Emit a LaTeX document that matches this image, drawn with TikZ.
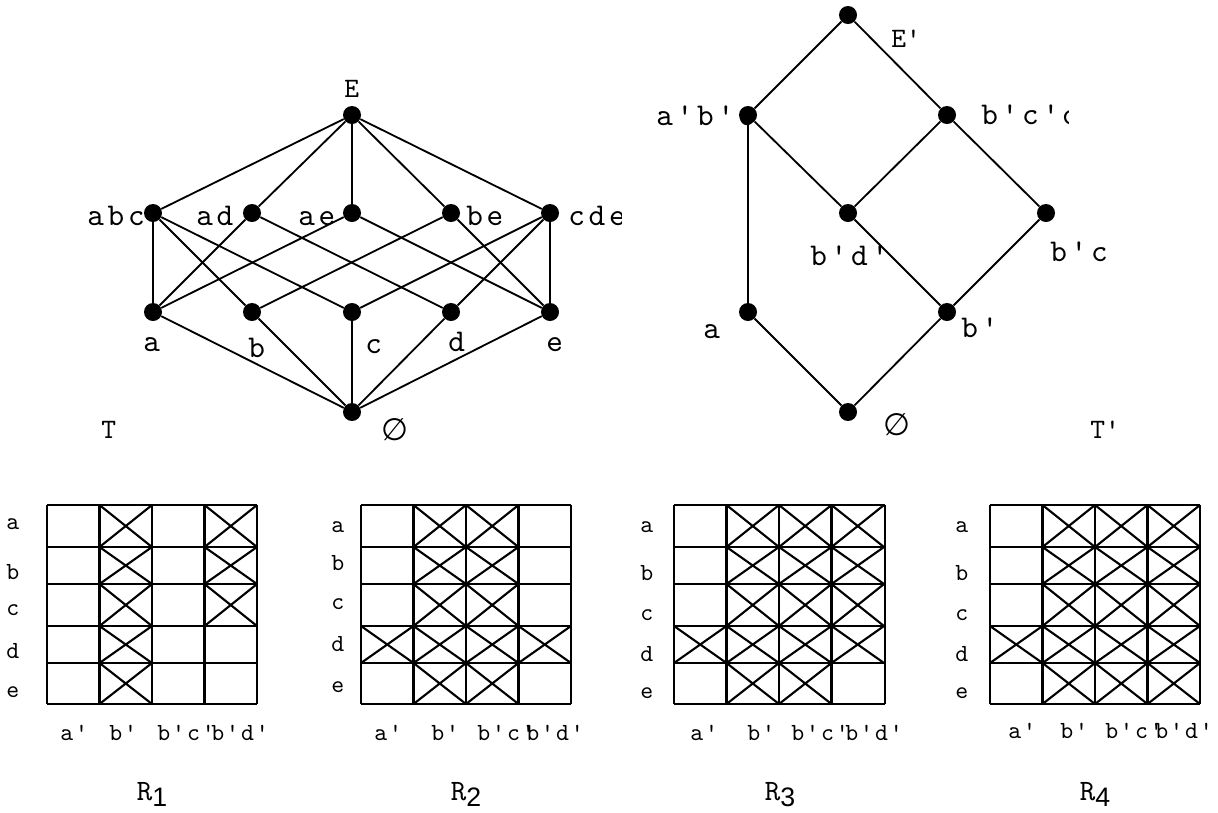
\documentclass[tikz,border=0pt]{standalone}
\usepackage{fontspec}
\newfontfamily\labfont{lmmono10-regular.otf}[LetterSpace=12]
\newfontfamily\gridfont{lmmono10-regular.otf}[LetterSpace=8]
\newfontfamily\capfont{lmmono10-regular.otf}
\newfontfamily\subfont{Liberation Sans}
\newfontfamily\symfont{DejaVu Sans}
\tikzset{
  dot/.style = {circle, fill=black, inner sep=0pt, minimum size=12.8pt},
  edge/.style = {line width=1.3pt},
  cell/.style = {line width=1.5pt},
  lab/.style = {inner sep=0pt, anchor=base west, font=\labfont\fontsize{22.5}{27}\selectfont},
  caplab/.style = {inner sep=0pt, anchor=base west, font=\capfont\fontsize{20}{24}\selectfont},
  small/.style = {inner sep=0pt, anchor=base west, font=\gridfont\fontsize{17.5}{21}\selectfont},
  rlab/.style = {inner sep=0pt, anchor=base, font=\capfont\fontsize{21}{25}\selectfont},
  nothing/.style = {inner sep=0pt, font=\symfont\fontsize{22}{26}\selectfont}
}
\begin{document}
\begin{tikzpicture}[x=0.025cm, y=-0.025cm]
  \useasboundingbox (0,0) rectangle (1218,812);

  % lattice T
  \node[caplab] (lE) at (344,97) {E};
  \node[lab] (labc) at (87,225) {abc};
  \node[lab] (lad) at (196,225) {ad};
  \node[lab] (lae) at (298,225) {ae};
  \node[lab] (lbe) at (466,225) {be};
  \begin{scope}
    \clip (0,0) rectangle (621,812);
    \node[lab] (lcde) at (568,225) {cde};
  \end{scope}
  \node[lab] (la) at (143,351) {a};
  \node[lab] (lb) at (248,357) {b};
  \node[lab] (lc) at (365,353) {c};
  \node[lab] (ld) at (448,351) {d};
  \node[lab] (le) at (546,351) {e};
  \node[caplab] (lT) at (101,438) {T};
  \node[nothing] (lnil) at (395,430) {∅};

  \node[dot] (E) at (352,115) {};
  \node[dot] (abc) at (153,213) {};
  \node[dot] (ad) at (252,213) {};
  \node[dot] (ae) at (352,213) {};
  \node[dot] (be) at (451,213) {};
  \node[dot] (cde) at (550,213) {};
  \node[dot] (a) at (153,312) {};
  \node[dot] (b) at (252,312) {};
  \node[dot] (c) at (352,312) {};
  \node[dot] (d) at (451,312) {};
  \node[dot] (e) at (550,312) {};
  \node[dot] (nil) at (352,412) {};

  \foreach \t in {abc,ad,ae,be,cde} \draw[edge] (E) -- (\t);
  \foreach \u/\v in {abc/a, abc/b, abc/c, ad/a, ad/d, ae/a, ae/e, be/b, be/e, cde/c, cde/d, cde/e}
    \draw[edge] (\u) -- (\v);
  \foreach \v in {a,b,c,d,e} \draw[edge] (\v) -- (nil);

  % lattice T'
  \node[caplab] (lEp) at (891,47) {E'};
  \node[lab] (lapbpc) at (656,125) {a'b'c};
  \begin{scope}
    \clip (0,0) rectangle (1068,812);
    \node[lab] (lbpcpd) at (981,124) {b'c'd};
  \end{scope}
  \node[lab] (lbpdp) at (810,265) {b'd'};
  \node[lab] (lbpc) at (1050,261) {b'c};
  \node[lab] (lap) at (703,338) {a};
  \node[lab] (lbp) at (961,337) {b'};
  \node[nothing] (lnilp) at (897,425) {∅};
  \node[caplab] (lTp) at (1090,438) {T'};

  \node[dot] (Ep) at (848,15) {};
  \node[dot] (apbpc) at (748,115) {};
  \node[dot] (bpcpd) at (947,115) {};
  \node[dot] (bpdp) at (848,213) {};
  \node[dot] (bpc) at (1046,213) {};
  \node[dot] (ap) at (748,312) {};
  \node[dot] (bp) at (947,312) {};
  \node[dot] (nilp) at (848,412) {};

  \foreach \u/\v in {Ep/apbpc, Ep/bpcpd, apbpc/ap, apbpc/bpdp, bpcpd/bpdp, bpcpd/bpc,
    bpdp/bp, bpc/bp, ap/nilp, bp/nilp}
    \draw[edge] (\u) -- (\v);

  % R_1
  \begin{scope}[shift={(47,0)}]
    \foreach \y in {505,547,584,626,663,704} \draw[cell] (0,\y) -- (210,\y);
    \foreach \x in {0,52.5,105,157.5,210} \draw[cell] (\x,505) -- (\x,704);
    \foreach \c/\t/\b in {1/505/547, 1/547/584, 1/584/626, 1/626/663, 1/663/704,
      3/505/547, 3/547/584, 3/584/626}
      \draw[cell] (\c*52.5,\t) -- (\c*52.5+52.5,\b) (\c*52.5,\b) -- (\c*52.5+52.5,\t);
  \end{scope}
  \foreach \n/\y in {a/529, b/579, c/615, d/658, e/697} \node[small] (ra\n) at (6,\y) {\n};
  \node[small] (ca1) at (60,740) {a'};
  \node[small] (ca2) at (109,740) {b'};
  \node[small] (ca3) at (157,740) {b'c'};
  \node[small] (ca4) at (211,740) {b'd'};
  \node[rlab] (R1) at (152,800) {R\raisebox{-4.3pt}{\subfont\fontsize{19}{20}\selectfont 1}};

  % R_2
  \begin{scope}[shift={(361,0)}]
    \foreach \y in {505,547,584,626,663,704} \draw[cell] (0,\y) -- (210,\y);
    \foreach \x in {0,52.5,105,157.5,210} \draw[cell] (\x,505) -- (\x,704);
    \foreach \c/\t/\b in {1/505/547, 1/547/584, 1/584/626, 1/663/704,
      2/505/547, 2/547/584, 2/584/626, 2/663/704,
      0/626/663, 1/626/663, 2/626/663, 3/626/663}
      \draw[cell] (\c*52.5,\t) -- (\c*52.5+52.5,\b) (\c*52.5,\b) -- (\c*52.5+52.5,\t);
  \end{scope}
  \foreach \n/\y in {a/532, b/570, c/609, d/651, e/692} \node[small] (rb\n) at (331,\y) {\n};
  \node[small] (cb1) at (374,740) {a'};
  \node[small] (cb2) at (431,740) {b'};
  \node[small] (cb3) at (477,740) {b'c'};
  \node[small] (cb4) at (526,740) {b'd'};
  \node[rlab] (R2) at (466,800) {R\raisebox{-4.3pt}{\subfont\fontsize{19}{20}\selectfont 2}};

  % R_3
  \begin{scope}[shift={(674,0)}]
    \foreach \y in {505,547,584,626,663,704} \draw[cell] (0,\y) -- (211,\y);
    \foreach \x in {0,52.5,105,157.5,211} \draw[cell] (\x,505) -- (\x,704);
    \foreach \c/\t/\b in {1/505/547, 1/547/584, 1/584/626, 1/663/704,
      2/505/547, 2/547/584, 2/584/626, 2/663/704,
      3/505/547, 3/547/584, 3/584/626,
      0/626/663, 1/626/663, 2/626/663, 3/626/663}
      \draw[cell] (\c*52.5,\t) -- (\c*52.5+52.5,\b) (\c*52.5,\b) -- (\c*52.5+52.5,\t);
  \end{scope}
  \foreach \n/\y in {a/532, b/580, c/620, d/661, e/698} \node[small] (rc\n) at (640,\y) {\n};
  \node[small] (cc1) at (690,740) {a'};
  \node[small] (cc2) at (747,740) {b'};
  \node[small] (cc3) at (791,740) {b'c'};
  \node[small] (cc4) at (845,740) {b'd'};
  \node[rlab] (R3) at (780,800) {R\raisebox{-4.3pt}{\subfont\fontsize{19}{20}\selectfont 3}};

  % R_4
  \begin{scope}[shift={(990,0)}]
    \foreach \y in {505,547,584,626,663,704} \draw[cell] (0,\y) -- (210,\y);
    \foreach \x in {0,52.5,105,157.5,210} \draw[cell] (\x,505) -- (\x,704);
    \foreach \c/\t/\b in {1/505/547, 1/547/584, 1/584/626, 1/663/704,
      2/505/547, 2/547/584, 2/584/626, 2/663/704,
      3/505/547, 3/547/584, 3/584/626, 3/663/704,
      0/626/663, 1/626/663, 2/626/663, 3/626/663}
      \draw[cell] (\c*52.5,\t) -- (\c*52.5+52.5,\b) (\c*52.5,\b) -- (\c*52.5+52.5,\t);
  \end{scope}
  \foreach \n/\y in {a/532, b/580, c/620, d/661, e/698} \node[small] (rd\n) at (955,\y) {\n};
  \node[small] (cd1) at (1008,738) {a'};
  \node[small] (cd2) at (1060,738) {b'};
  \node[small] (cd3) at (1105,738) {b'c'};
  \node[small] (cd4) at (1155,738) {b'd'};
  \node[rlab] (R4) at (1095,800) {R\raisebox{-4.3pt}{\subfont\fontsize{19}{20}\selectfont 4}};
\end{tikzpicture}
\end{document}
